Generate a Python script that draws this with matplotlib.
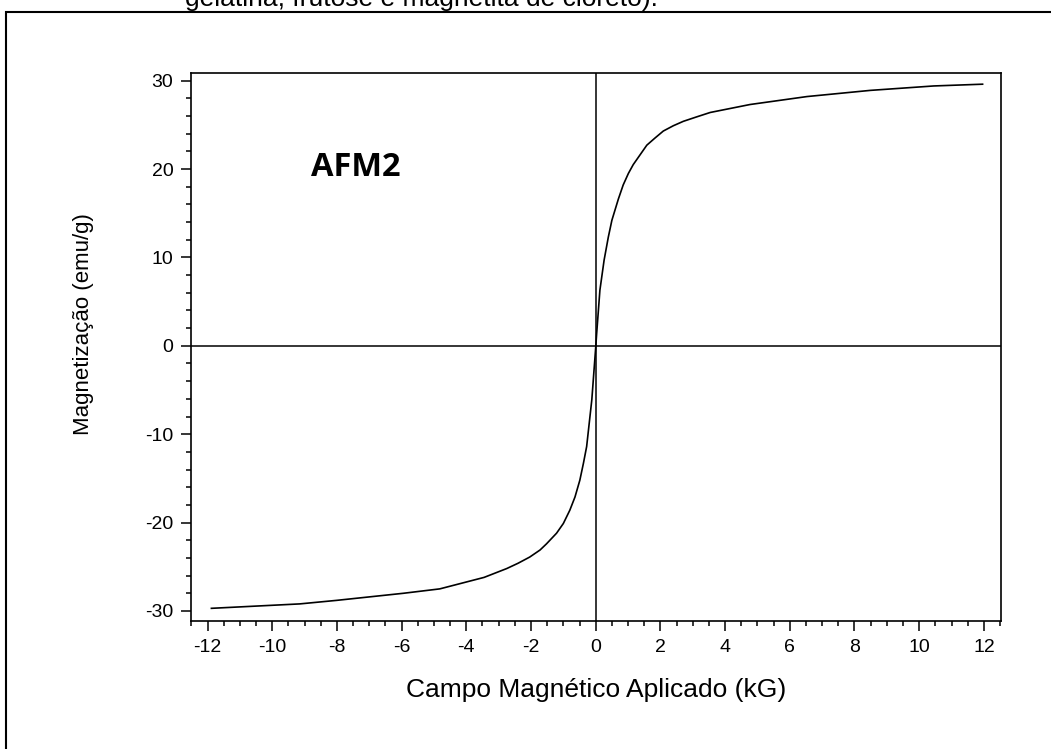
import matplotlib
matplotlib.use("Agg")
import matplotlib.pyplot as plt
from matplotlib.ticker import MultipleLocator
from matplotlib.patches import Rectangle

# Magnetization curve of sample AFM2 (field in kG, magnetization in emu/g)
field_kG = [-11.88, -9.15, -8.01, -5.95, -4.82, -3.45, -2.75, -2.40, -2.04,
            -1.72, -1.52, -1.21, -1.00, -0.80, -0.64, -0.49, -0.38, -0.28,
            -0.12, 0.00, 0.03, 0.13, 0.26, 0.39, 0.50, 0.60, 0.70, 0.85, 1.01,
            1.16, 1.37, 1.58, 1.83, 2.09, 2.40, 2.71, 3.12, 3.54, 4.77, 6.53,
            8.49, 10.45, 11.96]
magnetization = [-29.7, -29.2, -28.8, -28.0, -27.5, -26.2, -25.2, -24.6, -23.9,
                 -23.1, -22.4, -21.2, -20.1, -18.6, -17.1, -15.2, -13.3, -11.4,
                 -6.1, -0.2, 1.4, 6.3, 9.7, 12.3, 14.2, 15.4, 16.6, 18.2, 19.5,
                 20.5, 21.6, 22.7, 23.5, 24.3, 24.9, 25.4, 25.9, 26.4, 27.3, 28.2,
                 28.9, 29.4, 29.6]

x_ticks = [-12, -10, -8, -6, -4, -2, 0, 2, 4, 6, 8, 10, 12]
y_ticks = [-30, -20, -10, 0, 10, 20, 30]

plt.rcParams['font.family'] = ['Liberation Sans', 'DejaVu Sans']
plt.rcParams['axes.unicode_minus'] = False

W, H = 1051, 749
fig = plt.figure(figsize=(W / 100, H / 100), dpi=100)

# page frame around the figure
frame = Rectangle((6 / W, 0 - 20 / H), (W + 20) / W, (H - 12 + 20) / H,
                  transform=fig.transFigure, fill=False, edgecolor='black',
                  linewidth=1.5, clip_on=False)
fig.add_artist(frame)

# caption line from the page above
fig.text(185 / W, 1 - 6 / H, "gelatina, frutose e magnetita de cloreto).",
         fontsize=19, va='baseline', ha='left')

ax = fig.add_axes([190.7 / W, 1 - 620.7 / H, (1000.7 - 190.7) / W, (620.7 - 72.7) / H])
ax.plot(field_kG, magnetization, color='black', linewidth=1.2)
ax.axhline(0, color='black', linewidth=1.1)
ax.axvline(0, color='black', linewidth=1.1)

ax.set_xlim(-12.52, 12.52)
ax.set_ylim(-31.1, 30.9)
ax.set_xticks(x_ticks)
ax.set_yticks(y_ticks)
ax.xaxis.set_minor_locator(MultipleLocator(0.5))
ax.yaxis.set_minor_locator(MultipleLocator(2))
ax.tick_params(which='major', direction='out', length=7.5, width=1.1, labelsize=14)
ax.tick_params(which='minor', direction='out', length=3.8, width=1.1)
ax.tick_params(axis='x', which='major', pad=6)
ax.tick_params(axis='y', which='major', pad=5)
for sp in ax.spines.values():
    sp.set_linewidth(1.2)

ax.text(311 / W, 1 - 176 / H, "AFM2", transform=fig.transFigure,
        fontsize=23.5, fontweight='bold', family=['Open Sans', 'DejaVu Sans'],
        va='baseline', ha='left')

fig.text(84 / W, 1 - 324 / H, "Magnetização (emu/g)", rotation=90,
         fontsize=16, ha='center', va='center')
fig.text(596 / W, 1 - 690 / H, "Campo Magnético Aplicado (kG)",
         fontsize=19, ha='center', va='center')

fig.savefig("out.png", dpi=100)
